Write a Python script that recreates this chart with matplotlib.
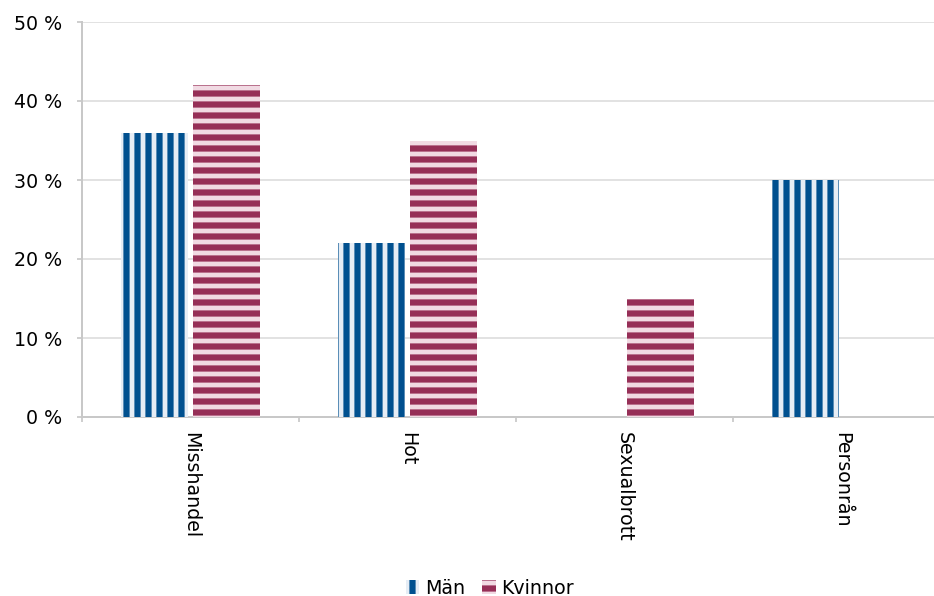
import matplotlib
matplotlib.use("Agg")
import matplotlib.pyplot as plt
import numpy as np

categories = ["Misshandel", "Hot", "Sexualbrott", "Personrån"]
man = [36, 22, 0, 30]
kvinnor = [42, 35, 15, 0]
series_names = ["Män", "Kvinnor"]
yticks = [0, 10, 20, 30, 40, 50]
ytick_labels = ["0 %", "10 %", "20 %", "30 %", "40 %", "50 %"]

DPI = 66
W, H = 934, 596
def pt(px):
    return px * 72.0 / DPI

plt.rcParams["font.family"] = ["DejaVu Sans"]
plt.rcParams["hatch.linewidth"] = pt(6.2)

fig = plt.figure(figsize=(W / DPI, H / DPI), dpi=DPI)
ax = fig.add_axes([82 / W, (H - 417) / H, (950 - 82) / W, (417 - 22) / H])

blue_dark = "#00508f"
blue_light = "#e6edf5"
red_dark = "#962f57"
red_light = "#f1dae3"

x = np.arange(len(categories))
bw = 0.31
off = 0.166
b1 = ax.bar(x - off, man, bw, color=blue_light, edgecolor=blue_dark, hatch="|", linewidth=0, label=series_names[0], zorder=3)
b2 = ax.bar(x + off, kvinnor, bw, color=red_light, edgecolor=red_dark, hatch="-", linewidth=0, label=series_names[1], zorder=3)

FS = pt(19)
ax.set_xlim(-0.5, len(categories) - 0.5)
ax.set_ylim(0, 50)
ax.set_yticks(yticks)
ax.set_yticklabels(ytick_labels)
ax.set_xticks(x)
ax.set_xticklabels(categories, rotation=-90, va="top", ha="center")
ax.set_xticks(np.arange(len(categories) + 1) - 0.5, minor=True)
ax.tick_params(axis="x", which="major", length=0, pad=pt(15), labelsize=FS, colors="black")
ax.tick_params(axis="x", which="minor", length=pt(5), width=pt(1.5), color="#c0c0c0")
ax.tick_params(axis="y", length=pt(5), width=pt(1.5), color="#c0c0c0", pad=pt(15), labelsize=FS, labelcolor="black")

for s in ["top", "right"]:
    ax.spines[s].set_visible(False)
for s in ["left", "bottom"]:
    ax.spines[s].set_color("#c8c8c8")
    ax.spines[s].set_linewidth(pt(2))
ax.yaxis.grid(True, color="#e2e2e2", linewidth=pt(2), zorder=0)
ax.set_axisbelow(True)

fig.legend(handles=[b1, b2], labels=series_names, loc="center", bbox_to_anchor=(490 / W, (H - 588) / H),
           ncol=2, frameon=False, fontsize=FS, handlelength=0.7, handleheight=0.7,
           handletextpad=0.3, columnspacing=0.9, borderaxespad=0)

fig.savefig("out.png", dpi=DPI)
